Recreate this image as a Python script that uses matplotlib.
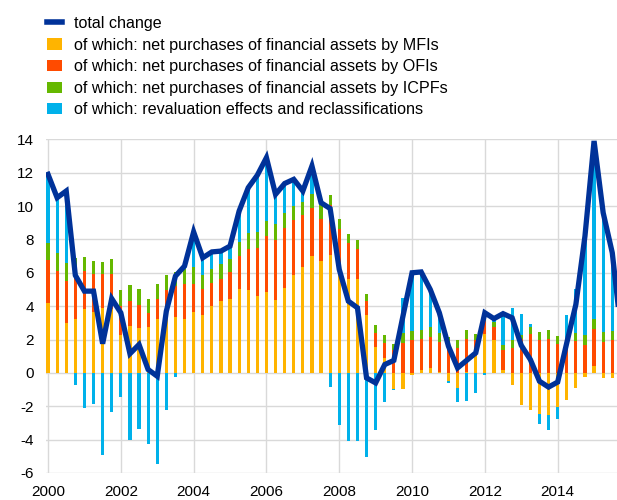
import matplotlib
matplotlib.use("Agg")
import matplotlib.pyplot as plt
from matplotlib.lines import Line2D
from matplotlib.patches import Patch
import numpy as np

plt.rcParams['font.family'] = ['Liberation Sans', 'DejaVu Sans']

# Quarterly observations, 2000 Q1 onwards (annual growth, percentage points)
start_year = 2000
total_change = [11.9, 10.5, 10.9, 5.85, 4.9, 4.9, 1.75, 4.45,
                3.6, 1.15, 1.7, 0.2, -0.2, 3.7, 5.8, 6.4,
                8.45, 6.9, 7.25, 7.3, 7.6, 9.7, 11.1, 11.85,
                12.9, 10.7, 11.35, 11.6, 10.9, 12.4, 10.2, 9.85,
                6.2, 4.3, 3.9, -0.3, -0.6, 0.5, 0.75, 3.4,
                6.0, 6.05, 5.0, 3.6, 1.6, 0.3, 0.75, 1.2,
                3.6, 3.25, 3.55, 3.3, 1.65, 0.8, -0.5, -0.85,
                -0.55, 1.8, 4.1, 8.2, 13.9, 9.6, 7.2, 2.3]
mfi = [4.2, 3.75, 3.0, 3.2, 3.8, 3.65, 3.9, 3.85,
       2.3, 2.8, 2.7, 2.75, 3.25, 3.35, 3.35, 3.25,
       3.65, 3.45, 4.0, 4.3, 4.45, 5.0, 4.95, 4.6,
       4.85, 4.35, 5.1, 5.85, 6.35, 7.0, 6.7, 7.05,
       6.0, 5.65, 5.65, 3.45, 1.55, 0.9, -0.95, -0.95,
       -0.1, 0.15, 0.3, 0.05, -0.5, -0.9, 0.05, 1.0,
       2.35, 1.95, 0.2, -0.7, -1.95, -2.25, -2.45, -2.55,
       -2.05, -1.6, -0.9, -0.22, 0.42, -0.3, -0.28, -0.2]
ofi = [2.55, 2.35, 2.5, 2.9, 2.3, 2.25, 2.0, 2.05,
       1.7, 1.5, 1.35, 0.85, 1.2, 1.6, 1.85, 2.05,
       1.7, 1.55, 1.4, 1.35, 1.6, 2.0, 2.5, 2.9,
       3.35, 3.6, 3.6, 3.3, 3.1, 2.9, 2.55, 3.0,
       2.65, 2.15, 1.75, 0.85, 0.85, 0.9, 1.4, 1.8,
       2.0, 1.9, 1.85, 1.8, 1.8, 1.5, 2.0, 1.0,
       0.75, 0.8, 1.15, 1.5, 2.05, 2.35, 2.0, 2.05,
       1.75, 1.55, 1.9, 1.7, 2.2, 1.88, 2.0, 1.9]
icpf = [1.05, 1.1, 1.1, 0.8, 0.85, 0.8, 0.75, 0.9,
        0.95, 0.95, 0.95, 0.85, 0.85, 0.9, 0.85, 0.95,
        1.0, 0.85, 0.85, 0.85, 0.8, 0.85, 0.95, 0.95,
        0.9, 0.95, 0.9, 0.85, 0.8, 0.8, 0.8, 0.6,
        0.6, 0.55, 0.55, 0.45, 0.45, 0.45, 0.35, 0.6,
        0.5, 0.55, 0.6, 0.55, 0.35, 0.5, 0.5, 0.35,
        0.55, 0.3, 0.3, 0.5, 0.2, 0.4, 0.45, 0.5,
        0.45, 0.3, 0.5, 0.55, 0.6, 0.56, 0.52, 0.5]
revaluation = [4.1, 3.3, 4.3, -0.7, -2.1, -1.85, -4.9, -2.35,
               -1.45, -4.05, -3.35, -4.25, -5.45, -2.2, -0.25, 0.15,
               2.1, 1.05, 0.95, 0.8, 0.75, 1.85, 2.7, 3.4,
               3.75, 1.75, 1.75, 1.6, 0.65, 1.75, 0.15, -0.85,
               -3.1, -4.1, -4.1, -5.05, -3.45, -1.75, -0.1, 2.1,
               3.5, 3.4, 2.25, 1.2, -0.1, -0.85, -1.7, -1.2,
               -0.1, 0.15, 2.0, 1.9, 1.3, 0.2, -0.6, -0.9,
               -0.7, 1.6, 2.6, 5.8, 10.7, 7.1, 4.9, 0.1]

series_labels = ["total change",
                 "of which: net purchases of financial assets by MFIs",
                 "of which: net purchases of financial assets by OFIs",
                 "of which: net purchases of financial assets by ICPFs",
                 "of which: revaluation effects and reclassifications"]
year_ticks = [2000, 2002, 2004, 2006, 2008, 2010, 2012, 2014]
value_ticks = [-6, -4, -2, 0, 2, 4, 6, 8, 10, 12, 14]

c_line = "#003299"
c_bars = ["#FFB400", "#FF4B00", "#65B800", "#00B1EA"]

W, H = 617, 500
fig = plt.figure(figsize=(W / 100, H / 100), dpi=100)
x_left, x_right = 1999.95, 2015.63
ax = fig.add_axes([46.2 / W, 27 / H, 1 - 46.2 / W, (473 - 139.3) / H])

n = len(total_change)
dates = start_year + np.arange(n) * 0.25

# Stack positives upward and negatives downward, component by component
pos_base = np.zeros(n)
neg_base = np.zeros(n)
for vals, col in zip([mfi, ofi, icpf, revaluation], c_bars):
    v = np.asarray(vals, dtype=float)
    base = np.where(v >= 0, pos_base, neg_base)
    ax.bar(dates, v, bottom=base, width=0.088, color=col, linewidth=0, zorder=2)
    pos_base = pos_base + np.clip(v, 0, None)
    neg_base = neg_base + np.clip(v, None, 0)

ax.plot(dates, total_change, color=c_line, linewidth=3.8, solid_joinstyle="miter",
        zorder=3)

ax.set_xlim(x_left, x_right)
ax.set_ylim(-6, 14)
ax.set_xticks(year_ticks)
ax.set_yticks(value_ticks)
ax.set_yticklabels([str(t) for t in value_ticks])
ax.grid(True, color="#d9d9d9", linewidth=1.0, zorder=0)
ax.set_axisbelow(True)
for s in ax.spines.values():
    s.set_visible(False)
ax.tick_params(axis="both", length=0, labelsize=11, colors="#000000")
ax.tick_params(axis="y", pad=9)
ax.tick_params(axis="x", pad=8.5)

handles = [Line2D([0], [0], color=c_line, linewidth=4)] + \
          [Patch(facecolor=c, edgecolor="none") for c in c_bars]
fig.legend(handles, series_labels, loc="upper left",
           bbox_to_anchor=(47 / W, 1 - 16 / H), frameon=False, fontsize=11.6,
           handlelength=0.95, handleheight=0.7, handletextpad=0.7,
           labelspacing=0.41, borderaxespad=0, borderpad=0)

fig.savefig("out.png", dpi=100)
